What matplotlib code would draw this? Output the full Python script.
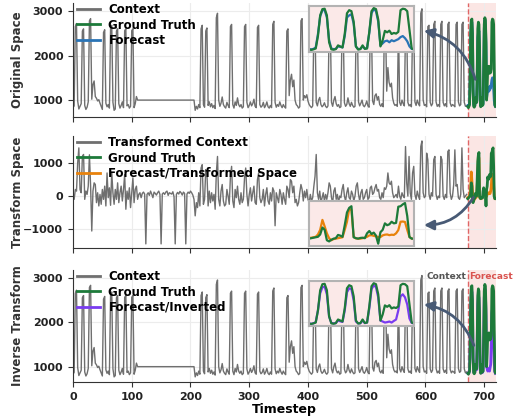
import numpy as np
import matplotlib
matplotlib.use('Agg')
import matplotlib.pyplot as plt

plt.rcParams['font.family'] = 'DejaVu Sans'
plt.rcParams['font.weight'] = 'bold'
plt.rcParams['axes.labelweight'] = 'bold'

# context is sampled every 2 steps, forecast window every step
ctx_t = np.arange(0, 672, 2)
fc_t = np.arange(672, 720)

context = [
    830, 870, 2650, 2720, 980, 800, 860, 920, 2550, 2600, 880, 790,
    840, 960, 2780, 2830, 1020, 1350, 1430, 1080, 1040, 980, 1010, 930,
    860, 790, 2520, 2580, 930, 850, 900, 820, 2620, 2680, 950, 770,
    800, 2550, 2600, 920, 820, 880, 960, 830, 2560, 2600, 870, 900,
    820, 860, 2560, 2600, 830, 920, 1080, 1000, 1000, 1000, 1000, 1000,
    1000, 1000, 1000, 1000, 1000, 1000, 1000, 1000, 1000, 1000, 1000, 1000,
    1000, 1000, 1000, 1000, 1000, 1000, 1000, 1000, 1000, 1000, 1000, 1000,
    1000, 1000, 1000, 1000, 1000, 1000, 1000, 1000, 1000, 1000, 1000, 1000,
    1000, 1000, 1000, 1000, 1000, 1000, 1000, 1000, 770, 860, 800, 900,
    830, 2600, 2680, 900, 840, 2550, 2620, 880, 960, 850, 920, 830,
    880, 810, 2850, 2950, 1000, 860, 930, 1070, 900, 850, 820, 950,
    880, 830, 2650, 2700, 900, 820, 960, 880, 1050, 900, 850, 900,
    820, 850, 2650, 2700, 950, 830, 880, 960, 870, 920, 1020, 860,
    830, 2630, 2680, 900, 840, 870, 950, 830, 880, 960, 850, 820,
    880, 830, 2700, 2770, 950, 840, 900, 860, 960, 880, 830, 900,
    850, 820, 2550, 2600, 1100, 1450, 1580, 1300, 1450, 1000, 900, 870,
    820, 850, 2780, 2830, 1000, 1100, 1050, 1120, 980, 900, 860, 830,
    870, 2600, 2650, 950, 870, 1000, 1060, 900, 850, 880, 940, 860,
    830, 870, 2650, 2700, 950, 860, 1000, 1080, 920, 860, 900, 830,
    850, 2600, 2650, 940, 860, 900, 1050, 920, 860, 950, 880, 840,
    860, 2650, 2700, 960, 870, 930, 1000, 880, 850, 900, 980, 870,
    840, 2650, 2700, 980, 900, 1100, 1140, 1000, 1080, 900, 860, 920,
    850, 2600, 2650, 1200, 1730, 1400, 1300, 1380, 1050, 930, 880, 900,
    860, 2700, 950, 880, 1000, 920, 870, 2600, 2650, 950, 870, 900,
    850, 2650, 2700, 960, 880, 1000, 920, 870, 2950, 3050, 1000, 880,
    900, 850, 2650, 2680, 950, 870, 920, 2700, 2770, 960, 860, 900,
    850, 2700, 2770, 950, 870, 920, 850, 2700, 2750, 940, 860, 900,
    880, 850, 2700, 2750, 960, 870, 900, 2700, 2750, 950, 860, 880,
]

transformed_context = [
    0, -100, 200, 150, 1000, 1460, 200, 100, 1200, 1260, -100, 150,
    50, 300, 1250, 300, -1060, 150, 400, 350, -200, 100, -300, 50,
    -250, 200, -100, 300, -300, 700, -50, 250, -280, 720, 100, -250,
    200, -100, 400, -200, 100, 300, -150, 200, 650, -400, 150, -100,
    250, -350, 100, 550, -200, 200, 300, -100, 50, 100, -50, 80,
    120, 60, -1450, 50, 100, 20, 150, 60, -50, 120, 80, 30,
    100, 150, 50, -1450, 60, 100, 50, 120, 150, 20, 100, 80,
    60, 130, -20, -1450, 50, 110, 60, 140, 100, 30, 120, 80,
    -1450, 60, 120, 80, 150, 100, 30, -100, -600, -200, -350, 100,
    -300, 850, 950, -250, -100, 800, 700, -300, 150, -200, 100, -150,
    50, -400, 700, 1200, -100, -300, 150, 350, -150, -300, -250, 200,
    0, -250, 600, 900, -150, -350, 200, -50, 300, -100, -250, 100,
    -200, -100, 550, 850, 50, -300, 50, 250, -150, 100, 300, -200,
    -250, 500, 700, -50, -200, -100, 200, -300, 50, 250, -150, -250,
    100, -150, 250, 150, -900, 100, -50, -200, 200, 50, -250, 100,
    -100, -250, 300, 200, -50, 500, 450, 100, 300, -200, -100, -300,
    -200, 100, 350, 200, -150, 150, -50, 200, -100, -200, 50, -150,
    -50, 300, 600, 1260, 100, -100, 150, -200, -50, 100, -150, 50,
    -100, 100, 400, 300, -50, -200, 150, 250, -100, 50, -200, 0,
    -50, 200, 350, 0, -150, 100, 250, -50, -100, 150, 50, -150,
    0, 300, 400, 50, -150, 100, 200, -100, -50, 100, 200, -100,
    -50, 250, 300, 50, 100, 250, 350, 150, 200, -50, -100, 100,
    -50, 250, 200, 300, 700, 400, 350, 450, 100, -50, 0, 50,
    -50, 300, 0, -100, 100, 0, -50, 1500, 400, 0, 1200, 100,
    -100, 700, 900, 50, -100, 150, 0, -100, 1500, 1670, 100, -50,
    0, 1300, 1100, 50, -100, 100, 0, 1100, 1200, 50, -100, 0,
    -50, 1200, 1100, 0, -100, 50, -50, 1350, 1400, 100, -100, 0,
    350, 1400, 300, 350, -50, -100, 50, 1460, 200, -50, 0, 50,
]

ground_truth = [
    850, 830, 860, 900, 1500, 2500, 2800, 2820, 2500, 1200, 860, 840,
    870, 1050, 1000, 950, 1600, 2600, 2750, 2700, 2200, 1000, 850, 870,
    1050, 880, 900, 1700, 2700, 2850, 2800, 2300, 1000, 1300, 1750, 1680,
    1760, 1600, 1650, 1620, 1700, 2750, 2820, 2800, 2700, 1800, 900, 860,
]
forecast = [
    870, 860, 880, 950, 1600, 2450, 2750, 2750, 2400, 1300, 900, 870,
    880, 1000, 980, 950, 1500, 2400, 2500, 2550, 2100, 1000, 870, 880,
    1000, 900, 920, 1650, 2600, 2800, 2700, 2200, 1050, 1150, 1250, 1280,
    1200, 1300, 1250, 1300, 1350, 1450, 1500, 1400, 1250, 1000, 880, 860,
]
ground_truth_tf = [
    -80, -60, -40, -20, 0, 100, 400, 300, -150, -200, -130, -80,
    -60, 80, 50, 0, 500, 1050, 1250, 1320, -20, -60, -80, -50,
    -40, -60, 150, 250, 120, 180, 50, -300, 200, 300, 580, 500,
    540, 650, 580, 600, 1300, 1320, 1400, 1460, 900, -10, -80, -80,
]
forecast_tf = [
    -50, -40, -20, 0, 100, 300, 730, 450, 150, -60, -150, -100,
    -80, -60, -40, -20, 300, 650, 1200, 1150, -7, -70, -80, -80,
    -60, -40, 0, 60, 70, 40, 20, -10, -10, 60, 90, 100,
    70, 90, 80, 150, 290, 650, 660, 640, 300, -10, -80, -80,
]
forecast_inv = [
    850, 840, 860, 920, 1500, 2350, 2650, 2680, 2300, 1200, 880, 860,
    870, 1000, 960, 930, 1500, 2400, 2600, 2550, 2000, 950, 860, 860,
    1000, 870, 900, 1600, 2550, 2750, 2650, 2150, 1000, 950, 900, 920,
    950, 900, 980, 1050, 1500, 2200, 2300, 2150, 1800, 1100, 880, 850,
]

GRAY = '#6f6f6f'
GREEN = '#1d7a3a'
ARROW = '#485a75'

panels = [
    dict(ylabel='Original Space', ctx=context, ctx_label='Context',
         gt=ground_truth, fc=forecast, fc_label='Forecast', color='#2a74b6',
         ylim=(620, 3180), bottom=0.7214, height=0.2714,
         inset=[0.558, 0.57, 0.248, 0.404],
         arrow=((0.953, 0.307), (0.823, 0.763)), rad=0.3),
    dict(ylabel='Transform Space', ctx=transformed_context,
         ctx_label='Transformed Context', gt=ground_truth_tf, fc=forecast_tf,
         fc_label='Forecast/Transformed Space', color='#e8820c',
         ylim=(-1575, 1820), bottom=0.4095, height=0.2667,
         inset=[0.558, 0.02, 0.248, 0.40],
         arrow=((0.950, 0.473), (0.823, 0.205)), rad=-0.3),
    dict(ylabel='Inverse Transform', ctx=context, ctx_label='Context',
         gt=ground_truth, fc=forecast_inv, fc_label='Forecast/Inverted',
         color='#7a3cf0', ylim=(655, 3175), bottom=0.0905, height=0.2667,
         inset=[0.558, 0.50, 0.248, 0.40],
         arrow=((0.950, 0.304), (0.823, 0.696)), rad=0.3),
]

fig = plt.figure(figsize=(5.15, 4.2), dpi=100)

for i, p in enumerate(panels):
    ax = fig.add_axes([0.1417, p['bottom'], 0.8214, p['height']])
    ax.axvspan(672, 720, color='#fbe6e4', zorder=0, lw=0)
    ax.axvline(672, color='#e06666', ls='--', lw=1, zorder=1)
    ax.plot(ctx_t, p['ctx'], color=GRAY, lw=1, label=p['ctx_label'], zorder=2)
    ax.plot(fc_t, p['gt'], color=GREEN, lw=2, label='Ground Truth', zorder=4)
    ax.plot(fc_t, p['fc'], color=p['color'], lw=2, label=p['fc_label'], zorder=3)

    ax.set_xlim(0, 720)
    ax.set_ylim(*p['ylim'])
    ax.set_xticks(range(0, 701, 100))
    ax.grid(True, color='#ececec', lw=0.8)
    ax.set_axisbelow(True)
    for s in ['top', 'right']:
        ax.spines[s].set_visible(False)
    for s in ['left', 'bottom']:
        ax.spines[s].set_color('#333333')
    ax.tick_params(labelsize=8, length=3.5, color='#333333', labelcolor='#222222')
    if i < 2:
        ax.tick_params(labelbottom=False)
    else:
        ax.set_xlabel('Timestep', fontsize=9, labelpad=1)
    ax.set_ylabel(p['ylabel'], fontsize=8.5, color='#333333')
    ax.yaxis.set_label_coords(-0.115, 0.5)

    handles, labels = ax.get_legend_handles_labels()
    leg = ax.legend([handles[0], handles[1], handles[2]], [labels[0], labels[1], labels[2]],
                    loc='upper left', bbox_to_anchor=(0.0, 1.03), frameon=False,
                    fontsize=8.5, handlelength=2.0, handletextpad=0.7,
                    labelspacing=0.2, borderaxespad=0.1, borderpad=0.2)
    for line in leg.get_lines():
        line.set_linewidth(2)

    # zoomed view of the forecast window
    iax = ax.inset_axes(p['inset'])
    iax.set_facecolor('#fbe9e8')
    iax.plot(fc_t, p['fc'], color=p['color'], lw=1.6)
    iax.plot(fc_t, p['gt'], color=GREEN, lw=1.6)
    iax.set_xlim(672, 719)
    iax.set_xticks([])
    iax.set_yticks([])
    for s in iax.spines.values():
        s.set_color('#b3b3b3')
        s.set_linewidth(1.5)
    iax.set_zorder(5)

    start, end = p['arrow']
    ax.annotate('', xy=end, xytext=start, xycoords='axes fraction',
                arrowprops=dict(arrowstyle='-|>', color=ARROW, lw=2,
                                mutation_scale=14,
                                connectionstyle='arc3,rad=%s' % p['rad']),
                zorder=6, annotation_clip=False)

    if i == 2:
        ax.text(669, 0.94, 'Context', transform=ax.get_xaxis_transform(),
                ha='right', va='center', fontsize=6.5, color='#555555')
        ax.text(675, 0.94, 'Forecast', transform=ax.get_xaxis_transform(),
                ha='left', va='center', fontsize=6.5, color='#d9534f')

fig.savefig('out.png', dpi=100)
